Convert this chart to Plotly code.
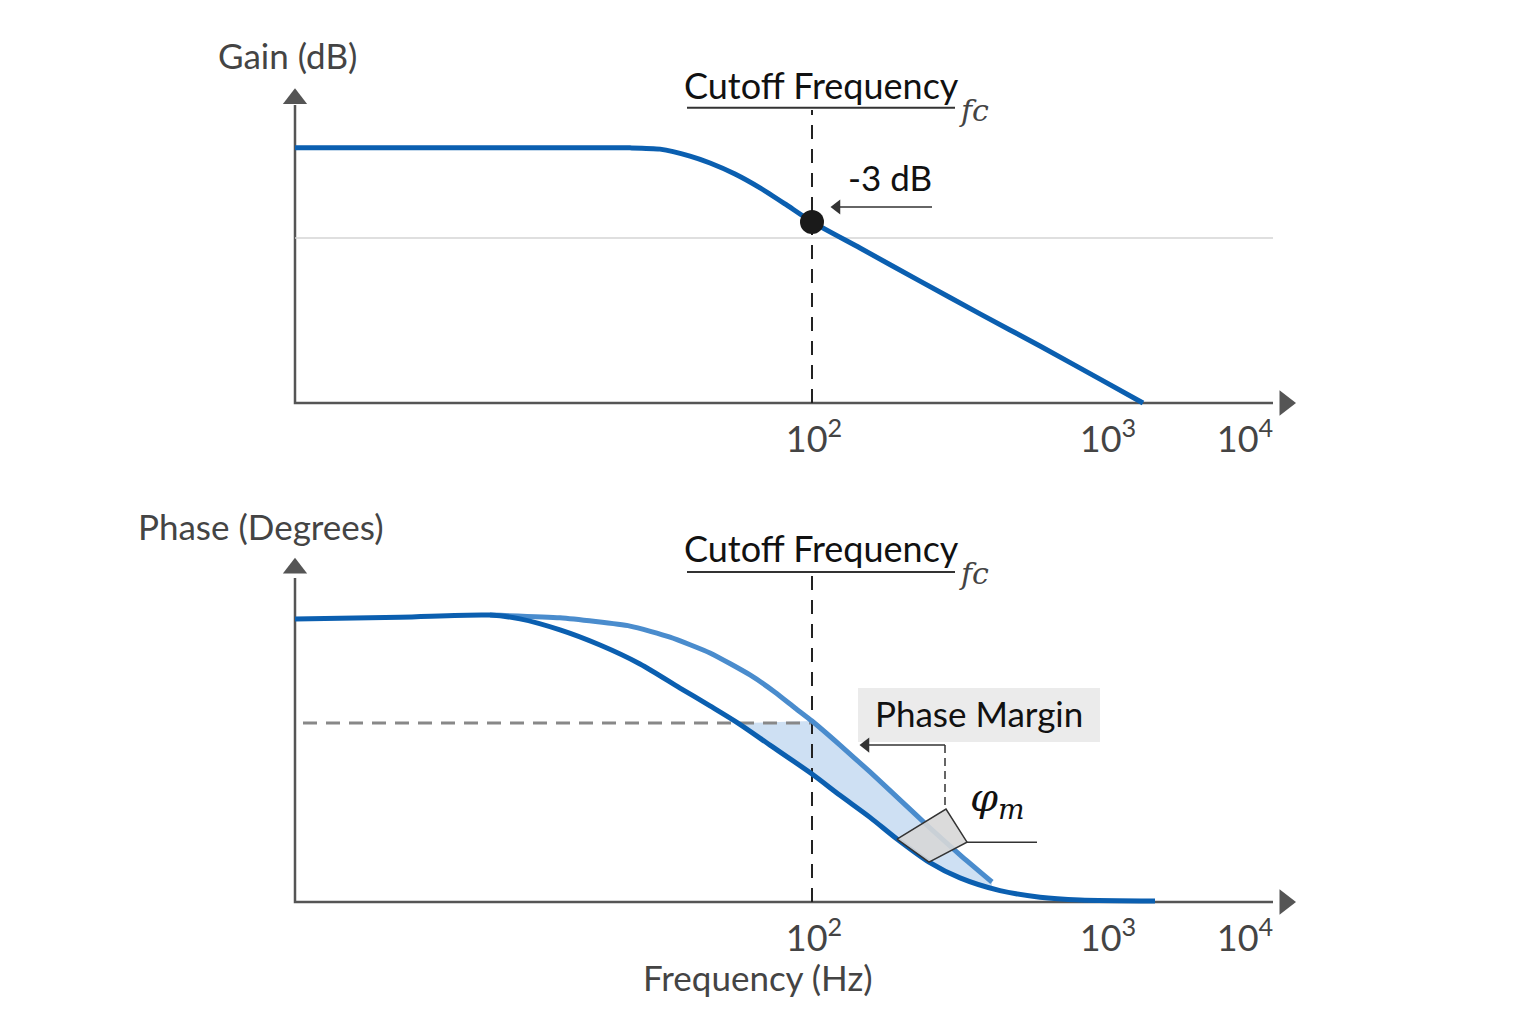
import numpy as np
import plotly.graph_objects as go

# ---------------- data (schematic units) ----------------
# x: position along the frequency axis (0 = origin of the axes, 100 = arrow tip)
TICK_POS = [51.9, 81.3, 95.0]
TICK_TEXT = ["10<sup>2</sup>", "10<sup>3</sup>", "10<sup>4</sup>"]

# Gain curve (0 = x-axis, 100 = top of y-axis arrow)
gain_x = [0, 33.5, 36.5, 39.5, 41.5, 44.0, 46.5, 49.0, 51.7, 56.5, 62.5, 68.5, 74.5, 80.5, 84.8]
gain_y = [81.0, 81.0, 80.6, 78.4, 76.2, 72.7, 68.3, 63.2, 57.5, 49.2, 38.7, 28.3, 18.1, 7.6, 0.0]

FC_X = 51.7            # cutoff frequency position
GAIN_3DB_Y = 57.5      # -3 dB point on the gain curve
GAIN_REF_Y = 52.4      # light reference line

# Phase curves
phase_x = [0, 10.5, 19.5, 22.5, 26.5, 30.5, 34.5, 38.5, 41.5, 44.3, 47.5, 51.7, 54.5,
           57.5, 60.2, 63.4, 66.5, 70.5, 74.5, 78.5, 86.0]
phase_y = [82.3, 82.8, 83.4, 82.3, 79.1, 74.7, 69.2, 62.2, 57.0, 52.0, 45.6, 37.2, 31.0,
           24.6, 18.3, 11.6, 7.0, 3.3, 1.4, 0.6, 0.3]

phase2_x = [19.5, 26.5, 33.5, 37.5, 41.5, 45.5, 48.0, 50.0, 51.7, 54.5, 57.5, 60.5, 63.5, 66.5, 69.7]
phase2_y = [83.4, 82.6, 80.2, 77.0, 72.4, 66.0, 61.0, 56.4, 52.6, 45.6, 37.8, 29.7, 21.5, 13.7, 5.8]

PHASE_REF_Y = 52.0     # dashed level line
PM_MARK_X = 65.0       # phase margin leader x
PM_MARK_Y = 45.6
quad_x = [60.2, 65.1, 67.2, 63.4]
quad_y = [18.3, 27.0, 17.4, 11.6]

# ---------------- styles ----------------
FONT = "Lato, 'Open Sans', sans-serif"
BLUE = "#0b5fb0"
BLUE2 = "#4a8ccd"
AXIS = "#555555"
TXT = "#444444"

fig = go.Figure()

X_RANGE = [-29.5, 124.1]
Y1_RANGE = [-34.6, 127.94]
Y2_RANGE = [-35.47, 113.37]

def add(tr, sub):
    if sub == 2:
        tr.update(xaxis="x2", yaxis="y2")
    fig.add_trace(tr)

for sub, ytip in ((1, 96.6), (2, 97.0)):
    ax_top = 94.6 if sub == 1 else 94.2
    # axes lines
    add(go.Scatter(x=[0, 0, 97.8], y=[ax_top, 0, 0], mode="lines",
                   line=dict(color=AXIS, width=2.5), hoverinfo="skip"), sub)
    add(go.Scatter(x=[0], y=[ytip], mode="markers",
                   marker=dict(symbol="triangle-up", size=21, color=AXIS), hoverinfo="skip"), sub)
    add(go.Scatter(x=[99.0], y=[0], mode="markers",
                   marker=dict(symbol="triangle-right", size=22, color=AXIS), hoverinfo="skip"), sub)

VDASH = "14px,10px"

def leader_arrow(x_from, x_to, y, sub):
    # horizontal pointer with a small filled head at x_to
    add(go.Scatter(x=[x_from, x_to + 0.8], y=[y, y], mode="lines",
                   line=dict(color="#333333", width=1.5), hoverinfo="skip"), sub)
    add(go.Scatter(x=[x_to + 0.7], y=[y], mode="markers",
                   marker=dict(symbol="triangle-left", size=13, color="#333333"), hoverinfo="skip"), sub)

# ---- top panel ----
add(go.Scatter(x=[0, 97.8], y=[GAIN_REF_Y, GAIN_REF_Y], mode="lines",
               line=dict(color="#d4d4d4", width=1.5), hoverinfo="skip"), 1)
add(go.Scatter(x=[FC_X, FC_X], y=[0, 93.0], mode="lines",
               line=dict(color="#222222", width=2, dash=VDASH), hoverinfo="skip"), 1)
add(go.Scatter(x=gain_x, y=gain_y, mode="lines", line=dict(color=BLUE, width=5, shape="spline", smoothing=0.6),
               hoverinfo="skip"), 1)
add(go.Scatter(x=[FC_X], y=[GAIN_3DB_Y], mode="markers",
               marker=dict(size=24, color="#1a1a1a"), hoverinfo="skip"), 1)
add(go.Scatter(x=[39.2, 66.0], y=[93.7, 93.7], mode="lines",
               line=dict(color="#333333", width=2), hoverinfo="skip"), 1)
leader_arrow(63.7, 53.5, 62.2, 1)

# ---- bottom panel ----
# shaded phase margin region
light_sel = [i for i, v in enumerate(phase2_x) if v >= FC_X]
top_x = [44.3] + [phase2_x[i] for i in light_sel]
top_y = [PHASE_REF_Y] + [phase2_y[i] for i in light_sel]
bot_x = top_x[::-1]
bot_y = list(np.interp(bot_x, phase_x, phase_y))
add(go.Scatter(x=top_x + bot_x + [44.3], y=top_y + bot_y + [PHASE_REF_Y], mode="lines", fill="toself",
               fillcolor="rgba(165,198,234,0.55)", line=dict(width=0), hoverinfo="skip"), 2)
add(go.Scatter(x=[0.8, FC_X], y=[PHASE_REF_Y, PHASE_REF_Y], mode="lines",
               line=dict(color="#888888", width=3, dash="14px,9px"), hoverinfo="skip"), 2)
add(go.Scatter(x=[FC_X, FC_X], y=[0, 95.1], mode="lines",
               line=dict(color="#222222", width=2, dash=VDASH), hoverinfo="skip"), 2)
add(go.Scatter(x=[39.2, 66.0], y=[95.9, 95.9], mode="lines",
               line=dict(color="#333333", width=2), hoverinfo="skip"), 2)
add(go.Scatter(x=phase2_x, y=phase2_y, mode="lines",
               line=dict(color=BLUE2, width=5, shape="spline", smoothing=0.5), hoverinfo="skip"), 2)
add(go.Scatter(x=phase_x, y=phase_y, mode="lines",
               line=dict(color=BLUE, width=5, shape="spline", smoothing=0.8), hoverinfo="skip"), 2)
add(go.Scatter(x=quad_x + [quad_x[0]], y=quad_y + [quad_y[0]], mode="lines", fill="toself",
               fillcolor="rgba(215,215,215,0.9)", line=dict(color="#333333", width=1.5), hoverinfo="skip"), 2)
add(go.Scatter(x=[quad_x[2], 74.2], y=[quad_y[2], quad_y[2]], mode="lines",
               line=dict(color="#333333", width=1.5), hoverinfo="skip"), 2)
add(go.Scatter(x=[PM_MARK_X, PM_MARK_X], y=[PM_MARK_Y, quad_y[1]], mode="lines",
               line=dict(color="#333333", width=1.5, dash="8px,5px"), hoverinfo="skip"), 2)
leader_arrow(PM_MARK_X, 56.4, PM_MARK_Y, 2)

shapes = [
    dict(type="rect", xref="x2", yref="y2", x0=56.3, x1=80.5, y0=46.5, y1=62.2,
         fillcolor="#ebebeb", line=dict(width=0), layer="below"),
]

annotations = [
    dict(xref="x", yref="y", x=-0.8, y=110.5, text="Gain (dB)", showarrow=False,
         font=dict(size=35, color=TXT, family=FONT)),
    dict(xref="x", yref="y", x=52.6, y=100.8, text="Cutoff Frequency", showarrow=False,
         font=dict(size=36, color="#111111", family=FONT)),
    dict(xref="x", yref="y", x=67.9, y=93.0, text="<i>fc</i>", showarrow=False,
         font=dict(size=30, color="#444444", family="DejaVu Serif, serif")),
    dict(xref="x", yref="y", x=59.5, y=71.6, text="-3 dB", showarrow=False,
         font=dict(size=35, color="#111111", family=FONT)),
    dict(xref="x2", yref="y2", x=-3.4, y=109.3, text="Phase (Degrees)", showarrow=False,
         font=dict(size=35, color=TXT, family=FONT)),
    dict(xref="x2", yref="y2", x=52.6, y=102.8, text="Cutoff Frequency", showarrow=False,
         font=dict(size=36, color="#111111", family=FONT)),
    dict(xref="x2", yref="y2", x=67.9, y=95.6, text="<i>fc</i>", showarrow=False,
         font=dict(size=30, color="#444444", family="DejaVu Serif, serif")),
    dict(xref="x2", yref="y2", x=68.4, y=54.9, text="Phase Margin", showarrow=False,
         font=dict(size=35, color="#111111", family=FONT)),
    dict(xref="x2", yref="y2", x=70.2, y=29.7, text="<i>φ<sub>m</sub></i>", showarrow=False,
         font=dict(size=40, color="#111111", family="DejaVu Serif, serif")),
    dict(xref="x2", yref="y2", x=46.3, y=-21.8, text="Frequency (Hz)", showarrow=False,
         font=dict(size=35, color=TXT, family=FONT)),
]

common_x = dict(range=X_RANGE, domain=[0, 1], showgrid=False, zeroline=False, showline=False,
                tickmode="array", tickvals=TICK_POS, ticktext=TICK_TEXT, ticks="",
                tickfont=dict(size=36, color=TXT, family=FONT), anchor="free", fixedrange=True)
common_y = dict(showgrid=False, zeroline=False, showline=False, showticklabels=False, fixedrange=True)

fig.update_layout(
    width=1536, height=1024,
    margin=dict(l=0, r=0, t=0, b=0),
    paper_bgcolor="white", plot_bgcolor="white",
    showlegend=False,
    xaxis=dict(**common_x, position=1 - 403 / 1024, ticklabelstandoff=12),
    yaxis=dict(**common_y, range=Y1_RANGE, domain=[0.5, 1]),
    xaxis2=dict(**common_x, position=1 - 902 / 1024, ticklabelstandoff=12),
    yaxis2=dict(**common_y, range=Y2_RANGE, domain=[0, 0.5]),
    shapes=shapes,
    annotations=annotations,
)

fig.write_html("out.html")
